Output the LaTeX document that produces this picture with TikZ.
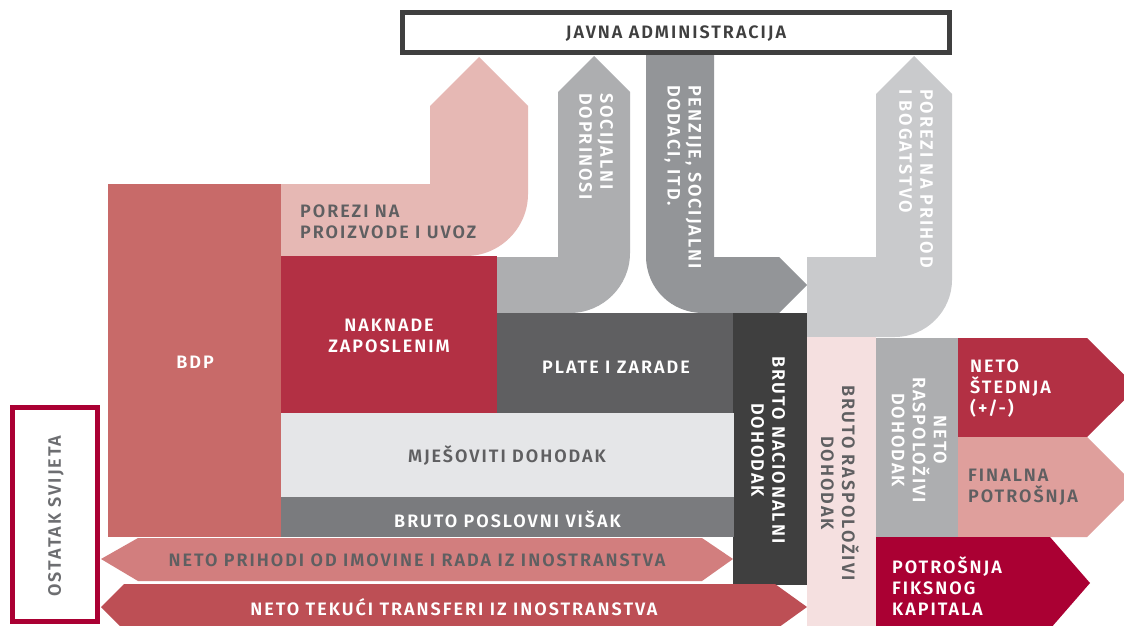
\documentclass[tikz,border=0pt]{standalone}
\usepackage{fontspec}
\setmainfont{Fira Sans}
\IfFontExistsTF{Fira Sans SemiBold}
  {\newfontfamily\lblfont{Fira Sans SemiBold}[LetterSpace=11,BoldFont={Fira Sans SemiBold}]}
  {\newfontfamily\lblfont{Fira Sans}[LetterSpace=11]}
\definecolor{cBDP}{HTML}{C86A69}
\definecolor{cPPU}{HTML}{E6B8B4}
\definecolor{cNak}{HTML}{B33044}
\definecolor{cSoc}{HTML}{ADAEB0}
\definecolor{cPen}{HTML}{939598}
\definecolor{cPrh}{HTML}{C9CACC}
\definecolor{cPla}{HTML}{5F5F61}
\definecolor{cBND}{HTML}{3F3F3F}
\definecolor{cMje}{HTML}{E5E6E8}
\definecolor{cBPV}{HTML}{7A7B7E}
\definecolor{cNPI}{HTML}{D27E7E}
\definecolor{cNTT}{HTML}{BD4F55}
\definecolor{cBRD}{HTML}{F5E0E0}
\definecolor{cNRD}{HTML}{ADAEB0}
\definecolor{cNSt}{HTML}{B33044}
\definecolor{cFin}{HTML}{DF9F9C}
\definecolor{cPFK}{HTML}{AA0033}
\definecolor{txtgray}{HTML}{5F5F61}
\definecolor{txtdark}{HTML}{3F3F3F}
\definecolor{txtost}{HTML}{6D6E71}
\begin{document}
\begin{tikzpicture}[x=1pt,y=-1pt,
  lbl/.style={font=\lblfont\bfseries\fontsize{18}{21}\selectfont, inner sep=0pt, text=txtgray},
  wlbl/.style={lbl, text=white},
  vdown/.style={rotate=-90}]
\clip (0,0) rectangle (1124,625);
\fill[white] (0,0) rectangle (1124,625);

% Javna administracija
\draw[line width=5pt, draw=txtdark, fill=white] (402.5,12.5) rectangle (949.5,52.5);
\node[lbl, text=txtdark] (javna) at (676,33.5) {JAVNA ADMINISTRACIJA};

% BDP
\fill[cBDP] (108,184) rectangle (281,537);
% Porezi na proizvode i uvoz arrow
\fill[cPPU] (281,184) -- (430,184) -- (430,106) -- (479,57) -- (528,106) -- (528,194)
  .. controls (528,228) and (500,256) .. (466,256) -- (281,256) -- cycle;
% Naknade
\fill[cNak] (281,256) rectangle (497,413);
% Socijalni doprinosi arrow
\fill[cSoc] (497,257) -- (558,257) -- (558,92) -- (594,56) -- (630,92) -- (630,253)
  .. controls (630,286) and (603,313) .. (570,313) -- (497,313) -- cycle;
% Penzije arrow
\fill[cPen] (646,55) -- (714,55) -- (714,257) -- (779,257) -- (807,285) -- (779,313) -- (703,313)
  .. controls (672,313) and (646,289) .. (646,256) -- cycle;
% Porezi na prihod arrow
\fill[cPrh] (807,257) -- (876,257) -- (876,94) -- (914,56) -- (952,94) -- (952,280)
  .. controls (952,311) and (926,337) .. (895,337) -- (807,337) -- cycle;
% Plate i zarade
\fill[cPla] (497,313) rectangle (734,413);
% Bruto nacionalni dohodak
\fill[cBND] (733,313) rectangle (807,585);
% Mjesoviti
\fill[cMje] (281,413) rectangle (734,497);
% Bruto poslovni visak
\fill[cBPV] (281,497) rectangle (734,537);
% Neto prihodi
\fill[cNPI] (101,559) -- (138,538) -- (702,538) -- (733,559) -- (702,581) -- (138,581) -- cycle;
% Neto tekuci
\fill[cNTT] (101,607) -- (124,584) -- (775,584) -- (807,607) -- (775,630) -- (124,630) -- cycle;
% Bruto raspolozivi
\fill[cBRD] (807,337) rectangle (876,630);
% Neto raspolozivi
\fill[cNRD] (876,338) rectangle (958,537);
% Neto stednja
\fill[cNSt] (958,338) -- (1087,338) -- (1137,387.5) -- (1087,437) -- (958,437) -- cycle;
% Finalna potrosnja
\fill[cFin] (958,437) -- (1087,437) -- (1137,487) -- (1087,537) -- (958,537) -- cycle;
% Potrosnja fiksnog kapitala
\fill[cPFK] (876,537) -- (1050,537) -- (1090,583) -- (1050,629) -- (876,629) -- cycle;
% Ostatak svijeta
\draw[line width=5pt, draw=cPFK, fill=white] (12.5,407.5) rectangle (97.5,621.5);

% labels
\node[lbl, anchor=west, align=left] (ppu) at (300,221.5) {POREZI NA\\PROIZVODE I UVOZ};
\node[wlbl] (bdp) at (195,362) {BDP};
\node[wlbl, align=center] (nak) at (389,336) {NAKNADE\\ZAPOSLENIM};
\node[wlbl] (pla) at (616,367) {PLATE I ZARADE};
\node[lbl] (mje) at (507,456) {MJEŠOVITI DOHODAK};
\node[wlbl] (bpv) at (507.5,519) {BRUTO POSLOVNI VIŠAK};
\node[lbl] (npi) at (417,560) {NETO PRIHODI OD IMOVINE I RADA IZ INOSTRANSTVA};
\node[wlbl] (ntt) at (454,607) {NETO TEKUĆI TRANSFERI IZ INOSTRANSTVA};
\node[lbl, rotate=90, text=txtost] (ost) at (56,516) {OSTATAK SVIJETA};
\node[wlbl, vdown, anchor=west, align=left] (soc) at (596,93) {SOCIJALNI\\DOPRINOSI};
\node[wlbl, vdown, anchor=west, align=left] (pen) at (683,85) {PENZIJE, SOCIJALNI\\DODACI, ITD.};
\node[wlbl, vdown, anchor=west, align=left] (prh) at (916,89) {POREZI NA PRIHOD\\I BOGATSTVO};
\node[wlbl, vdown, align=center] (bnd) at (768,450) {BRUTO NACIONALNI\\DOHODAK};
\node[lbl, vdown, align=center] (brd) at (840,483) {BRUTO RASPOLOŽIVI\\DOHODAK};
\node[wlbl, vdown, align=center] (nrd) at (919,440) {NETO\\RASPOLOŽIVI\\DOHODAK};
\node[wlbl, anchor=west, align=left] (nst) at (970,389) {NETO\\ŠTEDNJA\\(+/-)};
\node[lbl, anchor=west, align=left] (fin) at (968,487) {FINALNA\\POTROŠNJA};
\node[wlbl, anchor=west, align=left] (pfk) at (892,586) {POTROŠNJA\\FIKSNOG\\KAPITALA};
\end{tikzpicture}
\end{document}
